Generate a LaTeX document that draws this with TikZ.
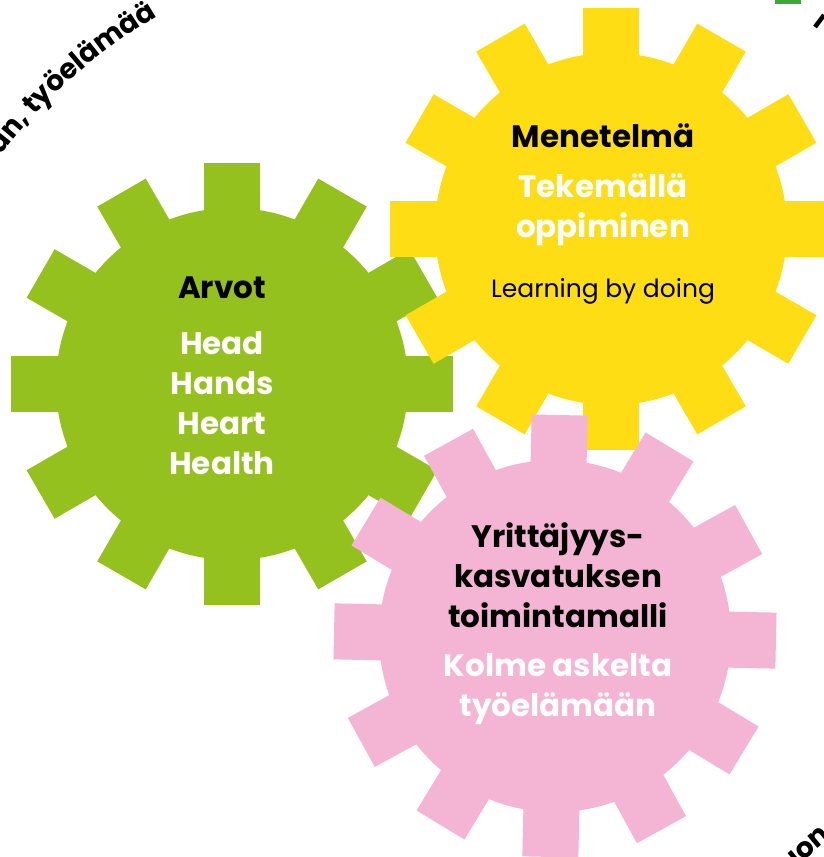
\documentclass[tikz,border=0pt]{standalone}
\usepackage{fontspec}
\setmainfont{Poppins}
\usetikzlibrary{decorations.text}
\definecolor{gGreen}{HTML}{95C11F}
\definecolor{gYellow}{HTML}{FFDD15}
\definecolor{gPink}{HTML}{F3B5D3}
\definecolor{edgeGreen}{HTML}{3AAA35}
\newcommand\arcfont{\fontsize{28}{28}\selectfont\bfseries}
\newcommand\drawgear[3]{%
  \begin{scope}[shift={#1}, rotate=#3]
    \fill[#2] (0,0) circle (176);
    \foreach \a in {0,30,...,150}{\fill[#2, rotate=\a] (-221,-28) rectangle (221,28);}
  \end{scope}}
\begin{document}
\begin{tikzpicture}[x=1pt,y=1pt,
  head/.style={font=\fontsize{31}{31}\selectfont\bfseries, text=black, anchor=base, inner sep=0},
  sub/.style={head, text=white},
  plain/.style={font=\fontsize{25}{25}\selectfont, text=black, anchor=base, inner sep=0}]
\useasboundingbox (0,0) rectangle (824,857);
\clip (0,0) rectangle (824,857);
\fill[white] (0,0) rectangle (824,857);
% gears
\drawgear{(232,473)}{gGreen}{0}
\drawgear{(611,628)}{gYellow}{0}
\drawgear{(555,221)}{gPink}{-1.2}
% green gear text
\node[head] (arvot) at (222,558) {Arvot};
\node[sub] (head) at (222,502) {Head};
\node[sub] (hands) at (222,462) {Hands};
\node[sub] (heart) at (222,422) {Heart};
\node[sub] (health) at (222,382) {Health};
% yellow gear text
\node[head] (menetelma) at (603,709) {Menetelmä};
\node[sub] (tekemalla) at (603,659) {Tekemällä};
\node[sub] (oppiminen) at (603,619) {oppiminen};
\node[plain] (learning) at (603,559) {Learning by doing};
% pink gear text
\node[head] (yrittajyys) at (558,309) {Yrittäjyys-};
\node[head] (kasvatuksen) at (558,269) {kasvatuksen};
\node[head] (toimintamalli) at (558,229) {toimintamalli};
\node[sub] (kolme) at (558,180) {Kolme askelta};
\node[sub] (tyoelamaan) at (558,140) {työelämään};
% surrounding ring text fragments
\path[decorate, decoration={text along path, text={|\arcfont|an, työelämää}, text align=left}]
  (437,367) ++(142.5:550) arc[start angle=142.5, end angle=100, radius=550];
\node[rotate=40, anchor=base west, font=\arcfont, inner sep=0] (tuon) at (780,-24) {tuon};
\draw[line width=4.5] (815,830) -- (824,842);
\fill[edgeGreen] (775,853) rectangle (801,857);
\end{tikzpicture}
\end{document}
